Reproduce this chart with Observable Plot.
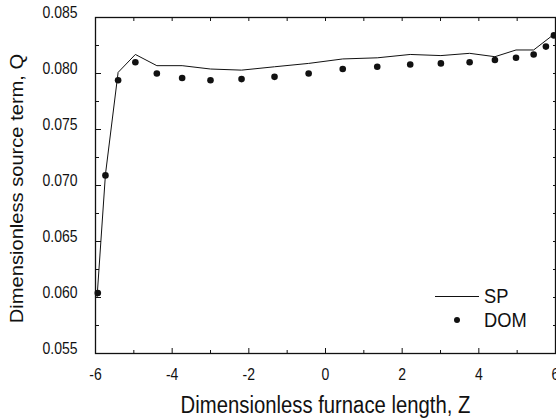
<!DOCTYPE html>
<html>
<head>
<meta charset="utf-8">
<script src="https://cdn.jsdelivr.net/npm/d3@7"></script>
<script src="https://cdn.jsdelivr.net/npm/@observablehq/plot@0.6"></script>
<style>
  body { margin: 0; background: #fff; }
  #chart { position: relative; width: 556px; height: 419px; font-family: "Liberation Sans", Arial, sans-serif; color: #111; }
  #chart svg { display: block; }
  .key-line { position: absolute; height: 0; border-top: 1px solid #111; }
  .key-dot { position: absolute; border-radius: 50%; background: #111; }
  .key-text { position: absolute; font-size: 18.3px; line-height: 1; transform: scaleY(1.15); transform-origin: left center; white-space: nowrap; }
</style>
</head>
<body>
<div id="chart"></div>
<script>
// Dimensionless furnace length Z and source term Q for the two solution methods
const zSp = [-5.96, -5.74, -5.41, -4.96, -4.40, -3.74, -3.00, -2.19, -1.33, -0.44, 0.45, 1.35, 2.21, 3.01, 3.76, 4.42, 4.97, 5.43, 5.96];
const qSp = [0.0600, 0.0710, 0.0801, 0.0817, 0.0807, 0.0807, 0.0804, 0.0803, 0.0806, 0.0809, 0.0813, 0.0814, 0.0817, 0.0816, 0.0818, 0.0815, 0.0821, 0.0821, 0.0835];

const zDom = [-5.94, -5.74, -5.41, -4.96, -4.40, -3.74, -3.00, -2.19, -1.33, -0.44, 0.45, 1.35, 2.21, 3.01, 3.76, 4.42, 4.97, 5.43, 5.75, 5.96];
const qDom = [0.0604, 0.0709, 0.0794, 0.0810, 0.0800, 0.0796, 0.0794, 0.0795, 0.0797, 0.0800, 0.0804, 0.0806, 0.0808, 0.0809, 0.0810, 0.0812, 0.0814, 0.0817, 0.0824, 0.0834];

const seriesNames = ["SP", "DOM"];

const xMajor = [-6, -4, -2, 0, 2, 4, 6];
const xMinor = [-5, -3, -1, 1, 3, 5];
const yMajor = [0.055, 0.060, 0.065, 0.070, 0.075, 0.080, 0.085];
const yMinor = [0.0575, 0.0625, 0.0675, 0.0725, 0.0775, 0.0825];

const xTitle = "Dimensionless furnace length, Z";
const yTitle = "Dimensionless source term, Q";

const sp = zSp.map((z, i) => ({z, q: qSp[i]}));
const dom = zDom.map((z, i) => ({z, q: qDom[i]}));

const ink = "#111";
const blank = () => "";

const chart = Plot.plot({
  width: 556,
  height: 419,
  marginLeft: 95,
  marginRight: 1,
  marginTop: 17,
  marginBottom: 66,
  style: {fontFamily: "'Liberation Sans', Arial, sans-serif", fontSize: "14px", color: ink, background: "#fff"},
  x: {domain: [-6, 6]},
  y: {domain: [0.055, 0.085]},
  marks: [
    // inward ticks on all four sides
    Plot.axisX({ticks: xMajor, tickSize: -5, tickPadding: 31, tickFormat: d => String(d), label: null}),
    Plot.axisX({ticks: xMinor, tickSize: -3, tickFormat: blank, label: null}),
    Plot.axisX({anchor: "top", ticks: xMajor.concat(xMinor), tickSize: -3, tickFormat: blank, label: null}),
    Plot.axisY({ticks: yMajor, tickSize: -6, tickPadding: 24, tickFormat: d3.format(".3f"), label: null}),
    Plot.axisY({ticks: yMinor, tickSize: -4, tickFormat: blank, label: null}),
    Plot.axisY({anchor: "right", ticks: yMajor.concat(yMinor), tickSize: -3, tickFormat: blank, label: null}),
    Plot.frame({stroke: ink, strokeWidth: 1.3}),
    Plot.line(sp, {x: "z", y: "q", stroke: ink, strokeWidth: 1}),
    Plot.dot(dom, {x: "z", y: "q", r: 3.3, fill: ink, stroke: null}),
    Plot.text([xTitle], {text: d => d, frameAnchor: "bottom", textAnchor: "middle", lineAnchor: "middle", dy: 59.5, fontSize: 20.3, fill: ink}),
    Plot.text([yTitle], {text: d => d, frameAnchor: "left", textAnchor: "middle", lineAnchor: "middle", rotate: -90, dx: -73, dy: 3, fontSize: 17.5, fill: ink})
  ]
});

// the lettering is set slightly tall, as in the original figure
chart.querySelectorAll("text").forEach(t => {
  let tr = t.getAttribute("transform") || "";
  if (t.hasAttribute("x") || t.hasAttribute("y")) {
    const x = +t.getAttribute("x") || 0, y = +t.getAttribute("y") || 0;
    t.removeAttribute("x"); t.removeAttribute("y");
    tr = `${tr} translate(${x},${y})`;
  }
  t.setAttribute("transform", tr + (tr.includes("rotate") ? " scale(1.15,1)" : " scale(1,1.15)"));
});

const root = document.getElementById("chart");
root.appendChild(chart);

// key: a line swatch for SP and a dot for DOM
const key = d3.select(root);
key.append("div").attr("class", "key-line").style("left", "435px").style("top", "296px").style("width", "44px");
key.append("div").attr("class", "key-dot").style("left", "453.7px").style("top", "316.7px").style("width", "6.6px").style("height", "6.6px");
key.selectAll("div.key-text").data(seriesNames).join("div")
  .attr("class", "key-text")
  .style("left", "484px")
  .style("top", (d, i) => `${296 + i * 24 - 9}px`)
  .text(d => d);
</script>
</body>
</html>
